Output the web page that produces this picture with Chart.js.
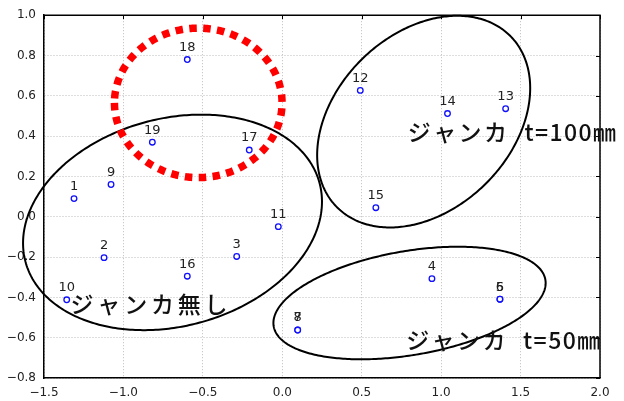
<!DOCTYPE html>
<html>
<head>
<meta charset="utf-8">
<script src="https://cdn.jsdelivr.net/npm/chart.js@4/dist/chart.umd.min.js"></script>
<style>
  html, body { margin: 0; padding: 0; background: #fff; }
  #wrap { width: 624px; height: 401px; }
</style>
</head>
<body>
<div id="wrap"><canvas id="c" width="624" height="401"></canvas></div>
<script>
// Sample numbers and their score coordinates
const sampleIds = ['1','2','3','4','5','6','7','8','9','10','11','12','13','14','15','16','17','18','19'];
const scoreX = [-1.311, -1.122, -0.287, 0.942, 1.370, 1.370, 0.097, 0.097, -1.078, -1.357, -0.025, 0.491, 1.406, 1.040, 0.589, -0.598, -0.208, -0.598, -0.818];
const scoreY = [0.090, -0.203, -0.197, -0.307, -0.409, -0.409, -0.562, -0.562, 0.160, -0.412, -0.049, 0.627, 0.536, 0.512, 0.045, -0.295, 0.331, 0.780, 0.370];

// Axis ranges and tick steps
const xRange = [-1.5, 2.0];
const yRange = [-0.8, 1.0];
const xStep = 0.5;
const yStep = 0.2;

// Group outlines in data units: centre plus two conjugate semi-axis vectors
const groupEllipses = [
  { cx: -0.691, cy: -0.028, ax: 0.925, ay: 0.197, bx: 0.172, by: -0.497 },
  { cx: 0.890, cy: 0.472, ax: 0.544, ay: 0.426, bx: 0.392, by: -0.307 },
  { cx: 0.801, cy: -0.428, ax: 0.855, ay: 0.116, bx: 0.0565, by: -0.254 }
];
const highlightEllipse = { cx: -0.529, cy: 0.565, ax: 0.5275, ay: 0, bx: 0, by: 0.3708 };

// Group captions anchored in data units (left edge, vertical middle)
const groupCaptions = [
  { parts: [{ text: 'ジャンカ', x: 0.790, gap: 2.4 }, { text: 't=100㎜', x: 1.525, gap: 1.4 }], y: 0.419 },
  { parts: [{ text: 'ジャンカ', x: 0.780, gap: 2.4 }, { text: 't=50㎜', x: 1.516, gap: 1.4 }], y: -0.612 },
  { parts: [{ text: 'ジャンカ無し', x: -1.333, gap: 3.8 }], y: -0.433 }
];

const points = scoreX.map((x, i) => ({ x: x, y: scoreY[i] }));
const fmt = v => Number(v).toFixed(1).replace('-', '\u2212');

function tracePath(ctx, xs, ys, e) {
  ctx.beginPath();
  const n = 360;
  for (let k = 0; k <= n; k++) {
    const t = (k / n) * Math.PI * 2 + Math.PI;
    const X = e.cx + e.ax * Math.cos(t) + e.bx * Math.sin(t);
    const Y = e.cy + e.ay * Math.cos(t) + e.by * Math.sin(t);
    const px = xs.getPixelForValue(X);
    const py = ys.getPixelForValue(Y);
    if (k === 0) ctx.moveTo(px, py); else ctx.lineTo(px, py);
  }
  ctx.closePath();
}

function spacedText(ctx, text, x, y, gap) {
  let cx = x;
  for (const ch of text) {
    ctx.fillText(ch, cx, y);
    cx += ctx.measureText(ch).width + gap;
  }
}

const overlay = {
  id: 'overlay',
  beforeDatasetsDraw(chart) {
    const { ctx, chartArea: a, scales } = chart;
    ctx.save();
    // frame on top and right with inward ticks
    ctx.strokeStyle = '#000';
    ctx.lineWidth = 1.5;
    ctx.beginPath();
    ctx.moveTo(a.left, a.top); ctx.lineTo(a.right, a.top); ctx.lineTo(a.right, a.bottom);
    ctx.stroke();
    ctx.lineWidth = 1;
    ctx.beginPath();
    scales.x.ticks.forEach(t => {
      const px = Math.round(scales.x.getPixelForValue(t.value)) + 0.5;
      ctx.moveTo(px, a.top); ctx.lineTo(px, a.top + 4);
    });
    scales.y.ticks.forEach(t => {
      const py = Math.round(scales.y.getPixelForValue(t.value)) + 0.5;
      ctx.moveTo(a.right, py); ctx.lineTo(a.right - 4, py);
    });
    ctx.stroke();
    ctx.restore();
  },
  afterDatasetsDraw(chart) {
    const { ctx, scales } = chart;
    const xs = scales.x, ys = scales.y;
    ctx.save();

    // sample number labels
    ctx.fillStyle = '#222';
    ctx.font = '13px "DejaVu Sans"';
    ctx.textAlign = 'center';
    ctx.textBaseline = 'middle';
    const meta = chart.getDatasetMeta(0);
    meta.data.forEach((el, i) => {
      ctx.fillText(sampleIds[i], el.x, el.y - 12);
    });

    // group outlines
    ctx.strokeStyle = '#000';
    ctx.lineWidth = 2;
    groupEllipses.forEach(e => { tracePath(ctx, xs, ys, e); ctx.stroke(); });

    // captions
    ctx.fillStyle = '#111';
    ctx.font = '500 23px "Noto Sans CJK JP"';
    ctx.textAlign = 'left';
    ctx.textBaseline = 'middle';
    groupCaptions.forEach(c => {
      const py = ys.getPixelForValue(c.y);
      c.parts.forEach(p => spacedText(ctx, p.text, xs.getPixelForValue(p.x), py, p.gap));
    });

    // dashed highlight
    ctx.strokeStyle = '#ff0000';
    ctx.lineWidth = 7.5;
    ctx.lineCap = 'butt';
    ctx.setLineDash([7.5, 6.4]);
    tracePath(ctx, xs, ys, highlightEllipse);
    ctx.stroke();
    ctx.restore();
  }
};

new Chart(document.getElementById('c'), {
  type: 'scatter',
  data: {
    datasets: [{
      data: points,
      pointStyle: 'circle',
      pointRadius: 2.8,
      pointHoverRadius: 2.8,
      pointBorderWidth: 1.3,
      pointBorderColor: '#1010ff',
      pointBackgroundColor: '#ffffff'
    }]
  },
  options: {
    responsive: false,
    animation: false,
    devicePixelRatio: 1,
    layout: { padding: { top: 13, right: 24, left: 0, bottom: 0 } },
    plugins: { legend: { display: false }, tooltip: { enabled: false } },
    scales: {
      x: {
        type: 'linear',
        min: xRange[0], max: xRange[1],
        afterFit(s) { s.height = 23; },
        border: { display: true, color: '#000', width: 1.5, dash: [1, 2] },
        grid: { color: '#bdbdbd', lineWidth: 1, drawTicks: false },
        ticks: {
          stepSize: xStep, padding: 8, color: '#222', maxRotation: 0,
          font: { family: 'DejaVu Sans', size: 12 },
          callback: v => fmt(v)
        }
      },
      y: {
        type: 'linear',
        min: yRange[0], max: yRange[1],
        afterFit(s) { s.width = 44; },
        border: { display: true, color: '#000', width: 1.5, dash: [1, 2] },
        grid: { color: '#bdbdbd', lineWidth: 1, drawTicks: false },
        ticks: {
          stepSize: yStep, padding: 8, color: '#222',
          font: { family: 'DejaVu Sans', size: 12 },
          callback: v => fmt(v)
        }
      }
    }
  },
  plugins: [overlay]
});
</script>
</body>
</html>
